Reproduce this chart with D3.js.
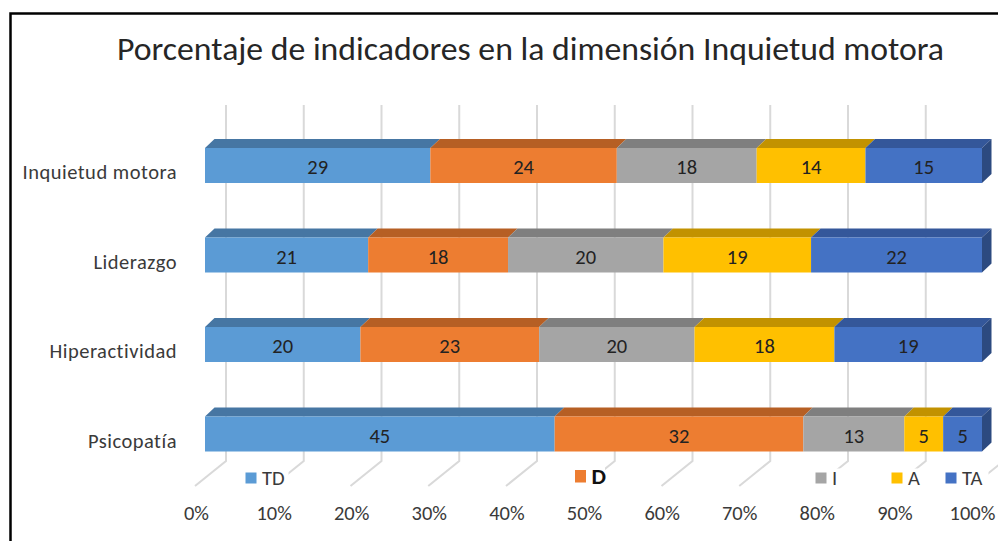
<!DOCTYPE html>
<html>
<head>
<meta charset="utf-8">
<script src="https://cdn.jsdelivr.net/npm/d3@7"></script>
<style>
  html, body { margin: 0; padding: 0; background: #fff; }
  svg { display: block; }
  text { font-family: Carlito, Calibri, "Open Sans", sans-serif; }
</style>
</head>
<body>
<svg id="chart" width="998" height="541"></svg>
<script>
// data (percent per row)
const categories = ['Inquietud motora', 'Liderazgo', 'Hiperactividad', 'Psicopatía']
const seriesNames = ['TD', 'D', 'I', 'A', 'TA']
const valTD = [29, 21, 20, 45]
const valD  = [24, 18, 23, 32]
const valI  = [18, 20, 20, 13]
const valA  = [14, 19, 18, 5]
const valTA = [15, 22, 19, 5]
const tickValues = [0, 10, 20, 30, 40, 50, 60, 70, 80, 90, 100]
const chartTitle = 'Porcentaje de indicadores en la dimensión Inquietud motora'

const frontColors = ['#5b9bd5', '#ed7d31', '#a5a5a5', '#ffc000', '#4472c4']
const topColors   = ['#4676a3', '#b65f24', '#7f7f7f', '#c29200', '#34579a']
const sideColor = '#2c4a80'

function draw() {
  const svg = d3.select('#chart')

  const rows = categories.map((c, i) => ({
    cat: c, TD: valTD[i], D: valD[i], I: valI[i], A: valA[i], TA: valTA[i]
  }))
  const stacked = d3.stack().keys(seriesNames)(rows)

  // three planes of the 3d box: front floor edge, bar front face, back wall
  const xFront = d3.scaleLinear().domain([0, 100]).range([196.5, 972.5])
  const xBar   = d3.scaleLinear().domain([0, 100]).range([205, 982])
  const xWall  = d3.scaleLinear().domain([0, 100]).range([226, 1003.5])
  const y = d3.scalePoint().domain(categories).range([165.5, 434])
  const barH = 35
  const dx = 9.5, dy = 9   // bar depth offset

  const wallTop = 105, wallBottom = 461, floorFront = 486

  // back wall grid + floor lines
  const grid = svg.append('g')
  grid.selectAll('path')
    .data(tickValues)
    .join('path')
    .attr('d', d => `M${xWall(d)},${wallTop}V${wallBottom}L${xWall(d) - 31},${floorFront}`)
    .attr('fill', 'none')
    .attr('stroke', '#d9d9d9')
    .attr('stroke-width', 2)

  // bars
  const layers = svg.append('g').selectAll('g')
    .data(stacked)
    .join('g')

  layers.selectAll('path.top')
    .data((s, i) => s.map(d => ({ d, i })))
    .join('path')
    .attr('class', 'top')
    .attr('d', o => {
      const x0 = xBar(o.d[0]), x1 = xBar(o.d[1]), yt = y(o.d.data.cat) - barH / 2
      return `M${x0},${yt}L${x1},${yt}L${x1 + dx},${yt - dy}L${x0 + dx},${yt - dy}Z`
    })
    .attr('fill', o => topColors[o.i])

  layers.selectAll('rect')
    .data((s, i) => s.map(d => ({ d, i })))
    .join('rect')
    .attr('x', o => xBar(o.d[0]))
    .attr('y', o => y(o.d.data.cat) - barH / 2)
    .attr('width', o => xBar(o.d[1]) - xBar(o.d[0]))
    .attr('height', barH)
    .attr('fill', o => frontColors[o.i])

  // right side face of the last series
  const last = stacked[stacked.length - 1]
  svg.append('g').selectAll('path')
    .data(last)
    .join('path')
    .attr('d', d => {
      const x1 = xBar(d[1]), yt = y(d.data.cat) - barH / 2
      return `M${x1},${yt}L${x1 + dx},${yt - dy}L${x1 + dx},${yt + barH - dy}L${x1},${yt + barH}Z`
    })
    .attr('fill', sideColor)

  // value labels
  layers.selectAll('text')
    .data(s => s)
    .join('text')
    .attr('x', d => (xBar(d[0]) + xBar(d[1])) / 2)
    .attr('y', d => y(d.data.cat) + 8.5)
    .attr('text-anchor', 'middle')
    .attr('font-size', 20.5)
    .attr('fill', '#222')
    .text(d => d[1] - d[0])

  // category labels
  svg.append('g').selectAll('text')
    .data(categories)
    .join('text')
    .attr('x', 177)
    .attr('y', d => y(d) + 13.5)
    .attr('text-anchor', 'end')
    .attr('font-size', 20.5)
    .attr('letter-spacing', 0.5)
    .attr('fill', '#3a3a3a')
    .text(d => d)

  // legend (sits on the floor, white behind each entry)
  const legendX = [245.5, 575, 815.5, 891.5, 945.5]
  const leg = svg.append('g').selectAll('g')
    .data(seriesNames)
    .join('g')
    .attr('transform', (d, i) => `translate(${legendX[i]},${i === 1 ? 470 : 472.5})`)
  leg.append('rect')
    .attr('x', -3).attr('y', -4)
    .attr('width', d => 20 + d.length * 13)
    .attr('height', 21)
    .attr('fill', '#fff')
  leg.append('rect')
    .attr('width', 11)
    .attr('height', (d, i) => i === 1 ? 12.5 : 11)
    .attr('fill', (d, i) => frontColors[i])
  leg.append('text')
    .attr('x', 16.5)
    .attr('y', (d, i) => i === 1 ? 14 : 12.5)
    .attr('font-size', (d, i) => i === 1 ? 23 : 20.5)
    .attr('font-weight', (d, i) => i === 1 ? 600 : 400)
    .attr('fill', (d, i) => i === 1 ? '#111' : '#3a3a3a')
    .text(d => d)

  // x tick labels
  svg.append('g').selectAll('text')
    .data(tickValues)
    .join('text')
    .attr('x', d => xFront(d))
    .attr('y', 519.5)
    .attr('text-anchor', 'middle')
    .attr('font-size', 20.5)
    .attr('fill', '#3a3a3a')
    .text(d => d + '%')

  // title
  svg.append('text')
    .attr('x', 117)
    .attr('y', 59.5)
    .attr('font-size', 32.5)
    .attr('textLength', 827)
    .attr('lengthAdjust', 'spacingAndGlyphs')
    .attr('fill', '#262626')
    .text(chartTitle)

  // outer frame (only left and top visible)
  svg.append('path')
    .attr('d', 'M10.5,560V13.5H1010')
    .attr('fill', 'none')
    .attr('stroke', '#000')
    .attr('stroke-width', 2.5)
}

draw()
</script>
</body>
</html>
